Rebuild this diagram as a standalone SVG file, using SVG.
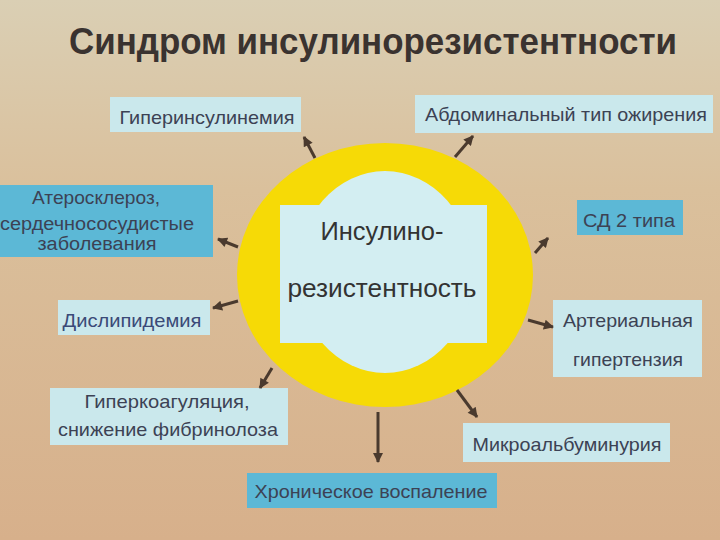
<svg xmlns="http://www.w3.org/2000/svg" width="720" height="540" viewBox="0 0 720 540">
<defs>
<linearGradient id="bg" x1="0" y1="0" x2="0" y2="1">
<stop offset="0" stop-color="#dacfb4"/>
<stop offset="0.35" stop-color="#dac09c"/>
<stop offset="1" stop-color="#d7b08b"/>
</linearGradient>
<marker id="ah" viewBox="0 0 10 10" refX="9" refY="5" markerWidth="11" markerHeight="10" markerUnits="userSpaceOnUse" orient="auto">
<path d="M0,0 L10,5 L0,10 Z" fill="#4a3a2e"/>
</marker>
<style>
.t{font-family:"Liberation Sans",Arial,sans-serif;font-size:19px;fill:#3c4254;text-anchor:middle}
.lb{fill:#cae8ec}
.db{fill:#5cb8d6}
.c line{stroke:#4a3a2e;stroke-width:3;marker-end:url(#ah)}
</style>
</defs>
<rect width="720" height="540" fill="url(#bg)"/>
<text x="373" y="54" font-family="'Liberation Sans',Arial,sans-serif" font-weight="bold" font-size="36" fill="#3a3330" text-anchor="middle" textLength="608" lengthAdjust="spacingAndGlyphs">Синдром инсулинорезистентности</text>

<g id="center">
<ellipse cx="385" cy="275" rx="148" ry="132" fill="#f6da06"/>
<rect x="280" y="205" width="207" height="138" fill="#d3eef2"/>
<ellipse cx="385" cy="272" rx="88" ry="101" fill="#d3eef2"/>
<text class="t" x="382" y="240" textLength="123" lengthAdjust="spacingAndGlyphs" style="font-size:26px;fill:#333">Инсулино-</text>
<text class="t" x="382" y="297" textLength="189" lengthAdjust="spacingAndGlyphs" style="font-size:26px;fill:#333">резистентность</text>
</g>

<g id="n1"><rect class="lb" x="110" y="97" width="191" height="35"/><text class="t" x="207" y="124" textLength="175" lengthAdjust="spacingAndGlyphs">Гиперинсулинемия</text></g>
<g id="n2"><rect class="lb" x="415" y="95" width="298" height="38"/><text class="t" x="566" y="121" textLength="282" lengthAdjust="spacingAndGlyphs">Абдоминальный тип ожирения</text></g>
<g id="n3"><rect class="db" x="0" y="185" width="213" height="72"/>
<text class="t" x="96" y="204" textLength="128" lengthAdjust="spacingAndGlyphs">Атеросклероз,</text>
<text class="t" x="97" y="230" textLength="194" lengthAdjust="spacingAndGlyphs" style="font-size:18px">сердечнососудистые</text>
<text class="t" x="97" y="250" textLength="119" lengthAdjust="spacingAndGlyphs" style="font-size:18px">заболевания</text></g>
<g id="n4"><rect class="db" x="577" y="200" width="106" height="35"/><text class="t" x="629" y="227" textLength="92" lengthAdjust="spacingAndGlyphs">СД 2 типа</text></g>
<g id="n5"><rect class="lb" x="58" y="300" width="152" height="35"/><text class="t" x="132" y="327" textLength="139" lengthAdjust="spacingAndGlyphs" style="fill:#3a4a78">Дислипидемия</text></g>
<g id="n6"><rect class="lb" x="553" y="300" width="149" height="77"/>
<text class="t" x="628" y="327" textLength="130" lengthAdjust="spacingAndGlyphs">Артериальная</text>
<text class="t" x="628" y="366" textLength="110" lengthAdjust="spacingAndGlyphs">гипертензия</text></g>
<g id="n7"><rect class="lb" x="50" y="388" width="238" height="57"/>
<text class="t" x="167" y="408" textLength="165" lengthAdjust="spacingAndGlyphs">Гиперкоагуляция,</text>
<text class="t" x="168" y="436" textLength="220" lengthAdjust="spacingAndGlyphs">снижение фибринолоза</text></g>
<g id="n8"><rect class="lb" x="463" y="423" width="207" height="39"/><text class="t" x="567" y="451" textLength="189" lengthAdjust="spacingAndGlyphs">Микроальбуминурия</text></g>
<g id="n9"><rect class="db" x="247" y="473" width="250" height="35"/><text class="t" x="371" y="498" textLength="233" lengthAdjust="spacingAndGlyphs">Хроническое воспаление</text></g>

<g id="connectors" class="c">
<line x1="315" y1="158" x2="304" y2="137"/>
<line x1="455" y1="157" x2="473" y2="136"/>
<line x1="238" y1="247" x2="218" y2="239"/>
<line x1="535" y1="253" x2="548" y2="238"/>
<line x1="238" y1="301" x2="213" y2="308"/>
<line x1="272" y1="368" x2="260" y2="388"/>
<line x1="528" y1="320" x2="553" y2="327"/>
<line x1="457" y1="390" x2="477" y2="417"/>
<line x1="378" y1="412" x2="378" y2="462"/>
</g>
</svg>
